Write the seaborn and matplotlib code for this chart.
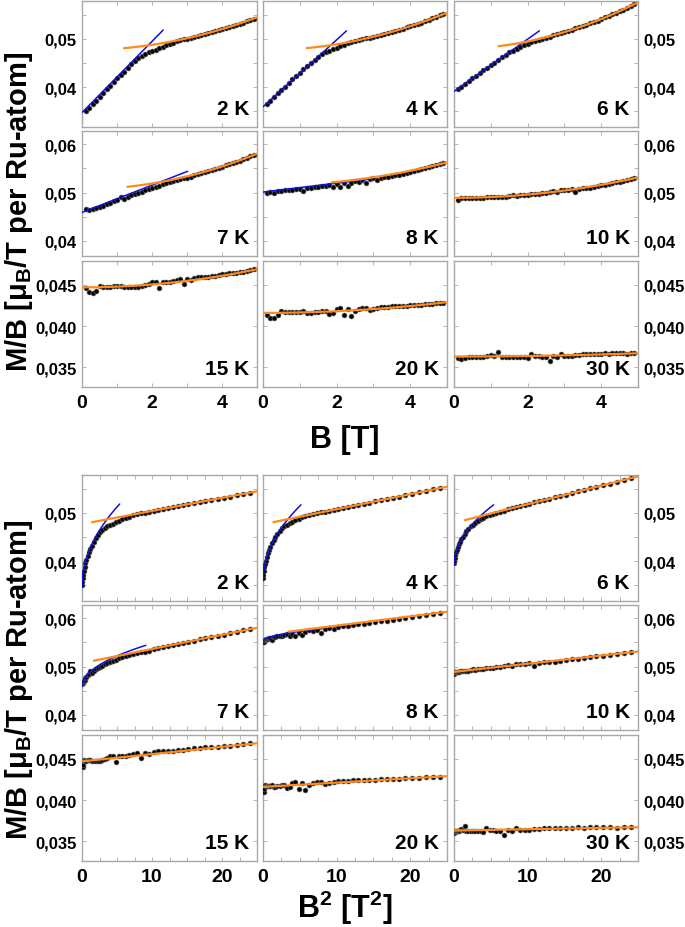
import numpy as np
import seaborn as sns
import matplotlib.pyplot as plt
from matplotlib.ticker import FixedLocator, FuncFormatter

# field values (T), same grid for every temperature
B_FIELD = [0.1, 0.2, 0.3, 0.4, 0.5, 0.6, 0.7, 0.8, 0.9, 1.0,
           1.1, 1.2, 1.3, 1.4, 1.5, 1.6, 1.7, 1.8, 1.9, 2.0,
           2.1, 2.2, 2.3, 2.4, 2.5, 2.6, 2.7, 2.8, 2.9, 3.0,
           3.1, 3.2, 3.3, 3.4, 3.5, 3.6, 3.7, 3.8, 3.9, 4.0,
           4.1, 4.2, 4.3, 4.4, 4.5, 4.6, 4.7, 4.8, 4.9]

TEMPS = ['2 K', '4 K', '6 K', '7 K', '8 K', '10 K', '15 K', '20 K', '30 K']

# M/B in muB/T per Ru atom
mb_2k = [.0350, .0357, .0365, .0372, .0380, .0387, .0395, .0403, .0410, .0418,
         .0425, .0432, .0440, .0447, .0454, .0460, .0465, .0469, .0472, .0475,
         .0478, .0481, .0484, .0487, .0490, .0492, .0495, .0497, .0499, .0501,
         .0503, .0505, .0507, .0509, .0510, .0512, .0514, .0516, .0518, .0520,
         .0522, .0524, .0526, .0529, .0531, .0534, .0537, .0539, .0542]
mb_4k = [.0365, .0372, .0379, .0387, .0394, .0401, .0409, .0416, .0423, .0430,
         .0437, .0444, .0451, .0457, .0463, .0468, .0472, .0476, .0479, .0482,
         .0485, .0488, .0491, .0494, .0496, .0498, .0500, .0502, .0503, .0505,
         .0507, .0509, .0511, .0513, .0515, .0517, .0519, .0521, .0524, .0526,
         .0529, .0531, .0534, .0537, .0540, .0543, .0546, .0549, .0552]
mb_6k = [.0397, .0401, .0407, .0413, .0418, .0424, .0430, .0435, .0440, .0446,
         .0451, .0457, .0462, .0467, .0472, .0476, .0480, .0484, .0487, .0490,
         .0493, .0496, .0498, .0500, .0503, .0505, .0508, .0510, .0512, .0514,
         .0517, .0519, .0522, .0524, .0527, .0530, .0533, .0535, .0538, .0541,
         .0545, .0548, .0551, .0554, .0558, .0561, .0565, .0569, .0572]
mb_7k = [.0465, .0463, .0466, .0468, .0471, .0473, .0476, .0479, .0482, .0485,
         .0490, .0487, .0490, .0494, .0497, .0500, .0502, .0505, .0507, .0510,
         .0512, .0514, .0517, .0519, .0521, .0523, .0525, .0527, .0529, .0531,
         .0533, .0536, .0538, .0540, .0542, .0545, .0547, .0549, .0551, .0553,
         .0556, .0558, .0561, .0563, .0566, .0569, .0572, .0575, .0577]
mb_8k = [.0500, .0501, .0500, .0503, .0503, .0505, .0506, .0506, .0508, .0507,
         .0503, .0510, .0510, .0511, .0512, .0513, .0514, .0516, .0511, .0517,
         .0512, .0519, .0514, .0520, .0524, .0522, .0525, .0519, .0527, .0529,
         .0526, .0530, .0532, .0533, .0535, .0536, .0537, .0539, .0541, .0542,
         .0544, .0546, .0548, .0550, .0552, .0554, .0556, .0558, .0560]
mb_10k = [.0484, .0488, .0488, .0488, .0488, .0489, .0489, .0489, .0490, .0490,
          .0491, .0490, .0491, .0491, .0492, .0494, .0493, .0494, .0495, .0495,
          .0496, .0497, .0498, .0500, .0499, .0502, .0503, .0502, .0505, .0506,
          .0506, .0507, .0502, .0508, .0509, .0509, .0510, .0512, .0513, .0515,
          .0516, .0518, .0519, .0521, .0522, .0524, .0526, .0528, .0530]
mb_15k = [.0446, .0441, .0440, .0442, .0449, .0447, .0448, .0448, .0449, .0449,
          .0449, .0448, .0447, .0447, .0448, .0448, .0449, .0450, .0451, .0453,
          .0454, .0446, .0453, .0454, .0454, .0455, .0456, .0457, .0451, .0457,
          .0456, .0458, .0459, .0459, .0460, .0460, .0461, .0461, .0462, .0463,
          .0463, .0464, .0465, .0465, .0466, .0466, .0467, .0468, .0469]
mb_20k = [.0414, .0410, .0410, .0414, .0418, .0417, .0417, .0417, .0417, .0417,
          .0418, .0416, .0416, .0417, .0417, .0418, .0418, .0415, .0416, .0421,
          .0422, .0414, .0421, .0412, .0418, .0421, .0422, .0422, .0420, .0421,
          .0422, .0423, .0423, .0423, .0424, .0424, .0424, .0424, .0424, .0425,
          .0425, .0426, .0426, .0427, .0427, .0427, .0428, .0428, .0428]
mb_30k = [.0361, .0360, .0361, .0362, .0363, .0363, .0362, .0362, .0364, .0365,
          .0364, .0368, .0363, .0362, .0362, .0362, .0362, .0362, .0362, .0361,
          .0366, .0364, .0364, .0363, .0363, .0357, .0364, .0363, .0366, .0364,
          .0364, .0364, .0365, .0365, .0366, .0366, .0366, .0366, .0366, .0366,
          .0367, .0366, .0367, .0367, .0367, .0367, .0366, .0367, .0367]
# the 8 K panel of the B^2 plot sits higher than in the B plot
mb_8k_sq = [.0551, .0552, .0551, .0554, .0554, .0556, .0557, .0557, .0559, .0558,
            .0554, .0561, .0561, .0562, .0563, .0564, .0565, .0567, .0562, .0568,
            .0563, .0570, .0565, .0571, .0575, .0573, .0576, .0570, .0578, .0580,
            .0577, .0581, .0583, .0584, .0586, .0587, .0588, .0590, .0592, .0593,
            .0595, .0597, .0599, .0601, .0603, .0605, .0607, .0609, .0611]

MB_TOP = [mb_2k, mb_4k, mb_6k, mb_7k, mb_8k, mb_10k, mb_15k, mb_20k, mb_30k]
MB_BOT = [mb_2k, mb_4k, mb_6k, mb_7k, mb_8k_sq, mb_10k, mb_15k, mb_20k, mb_30k]

# low field fit, linear in B: intercept, slope, upper B (None = no fit)
lin_a = [0.0347, 0.0359, 0.0391, 0.0459, 0.0501, None, None, None, None]
lin_b = [0.00740, 0.00696, 0.00543, 0.00281, 0.00092, None, None, None, None]
lin_end = [2.32, 2.27, 2.32, 3.02, 2.84, None, None, None, None]
lin_a_sq = [0.0347, 0.0359, 0.0391, 0.0459, 0.0552, None, None, None, None]
# high field fit, linear in B^2: intercept, slope, lower B
sq_a = [0.0477, 0.04766, 0.04794, 0.0507, 0.05143, 0.0489, 0.0447, 0.0416, 0.0363]
sq_b = [0.000272, 0.000312, 0.000387, 0.000292, 0.000191, 0.000168, 0.000088, 0.000052, 0.000016]
sq_start = [1.2, 1.19, 1.21, 1.3, 1.87, 0.0, 0.0, 0.0, 0.0]
sq_a_sq = [0.0477, 0.04766, 0.04794, 0.0507, 0.05653, 0.0489, 0.0447, 0.0416, 0.0363]

ROW_YLIM = [(0.0317, 0.0579), (0.0369, 0.0627), (0.0326, 0.0479)]
ROW_YTICKS = [[0.035, 0.040, 0.045, 0.050, 0.055],
              [0.040, 0.045, 0.050, 0.055, 0.060],
              [0.035, 0.040, 0.045]]
ROW_YLABELS = [{0.04: '0,04', 0.05: '0,05'},
               {0.04: '0,04', 0.05: '0,05', 0.06: '0,06'},
               {0.035: '0,035', 0.04: '0,040', 0.045: '0,045'}]

sns.set_theme(style='white')
plt.rcParams['font.family'] = ['Liberation Sans Narrow', 'Liberation Sans', 'DejaVu Sans']
plt.rcParams['font.weight'] = 'bold'
plt.rcParams['text.color'] = 'black'
plt.rcParams['xtick.labelcolor'] = 'black'
plt.rcParams['ytick.labelcolor'] = 'black'
plt.rcParams['mathtext.fontset'] = 'custom'
plt.rcParams['mathtext.rm'] = 'Liberation Sans:bold'
plt.rcParams['mathtext.bf'] = 'Liberation Sans:bold'
plt.rcParams['mathtext.it'] = 'Liberation Sans:italic'

W, H = 685, 928
fig = plt.figure(figsize=(W / 100, H / 100), dpi=100)

cols = [(82, 257), (263, 447), (454, 638)]
rows_top = [(2, 128), (132, 257), (262, 388)]
rows_bot = [(476, 602), (606, 731), (736, 862)]
frame_col = '#a8a8a8'
label_font = ['Liberation Sans', 'DejaVu Sans']


def make_axes(l, t, r, b):
    return fig.add_axes([l / W, 1 - b / H, (r - l) / W, (b - t) / H])


def draw_block(rows, squared, mb_list, lin_int, sq_int):
    for i in range(9):
        ri, ci = divmod(i, 3)
        ax = make_axes(cols[ci][0], rows[ri][0], cols[ci][1], rows[ri][1])
        bvals = np.array(B_FIELD)
        xvals = bvals ** 2 if squared else bvals
        sns.scatterplot(x=xvals, y=mb_list[i], ax=ax, color='black', s=13,
                        edgecolor='#777777', linewidth=0.4, zorder=3)
        # low field fit (blue)
        if lin_int[i] is not None:
            bb = np.linspace(0, lin_end[i], 60)
            yy = lin_int[i] + lin_b[i] * bb
            ax.plot(bb ** 2 if squared else bb, yy, color='#1010d8', lw=1.1, zorder=4)
        # high field fit (orange)
        bb = np.linspace(sq_start[i], 5.0, 80)
        yy = sq_int[i] + sq_b[i] * bb ** 2
        ax.plot(bb ** 2 if squared else bb, yy, color='#ff8a1c', lw=1.6, zorder=5)

        ax.set_xlim(0, 25 if squared else 5)
        ax.set_ylim(*ROW_YLIM[ri])
        if squared:
            ax.xaxis.set_major_locator(FixedLocator(np.arange(0, 25.1, 2.5)))
            ax.xaxis.set_major_formatter(FuncFormatter(
                lambda v, p: '%d' % v if abs(v % 10) < 1e-6 else ''))
        else:
            ax.xaxis.set_major_locator(FixedLocator([0, 1, 2, 3, 4, 5]))
            ax.xaxis.set_major_formatter(FuncFormatter(
                lambda v, p: '%d' % v if int(round(v)) in (0, 2, 4) else ''))
        labs = ROW_YLABELS[ri]
        ax.yaxis.set_major_locator(FixedLocator(ROW_YTICKS[ri]))
        ax.yaxis.set_major_formatter(FuncFormatter(
            lambda v, p, labs=labs: next((s for k, s in labs.items() if abs(k - v) < 1e-6), '')))
        ax.tick_params(direction='in', length=3, width=0.6, color=frame_col,
                       labelcolor='black',
                       top=True, right=True, bottom=True, left=True,
                       labelsize=12, pad=4,
                       labelbottom=(ri == 2), labelleft=(ci == 0), labelright=(ci == 2))
        for lab in ax.get_xticklabels() + ax.get_yticklabels():
            lab.set_fontweight('bold')
        ax.tick_params(axis='x', labelsize=14, pad=5)
        for sp in ax.spines.values():
            sp.set_color(frame_col)
            sp.set_linewidth(1.0)
        ax.set_xlabel('')
        ax.set_ylabel('')
        ax.text(0.955, 0.07, TEMPS[i], transform=ax.transAxes, ha='right', va='bottom',
                fontsize=15, fontweight='bold', color='black')


draw_block(rows_top, False, MB_TOP, lin_a, sq_a)
draw_block(rows_bot, True, MB_BOT, lin_a_sq, sq_a_sq)

ylab = r'M/B [μ$_\mathbf{B}$/T per Ru-atom]'
fig.text(19 / W, 1 - 212 / H, ylab, rotation=90, ha='center', va='center',
         fontsize=21, fontweight='bold', family=label_font, color='black')
fig.text(19 / W, 1 - 680 / H, ylab, rotation=90, ha='center', va='center',
         fontsize=21, fontweight='bold', family=label_font, color='black')
fig.text(345 / W, 1 - 440 / H, 'B [T]', ha='center', va='center',
         fontsize=22, fontweight='bold', family=label_font, color='black')
fig.text(345 / W, 1 - 908 / H, r'B$^\mathbf{2}$ [T$^\mathbf{2}$]', ha='center', va='center',
         fontsize=22, fontweight='bold', family=label_font, color='black')

fig.savefig('out.png', dpi=100, facecolor='white')
